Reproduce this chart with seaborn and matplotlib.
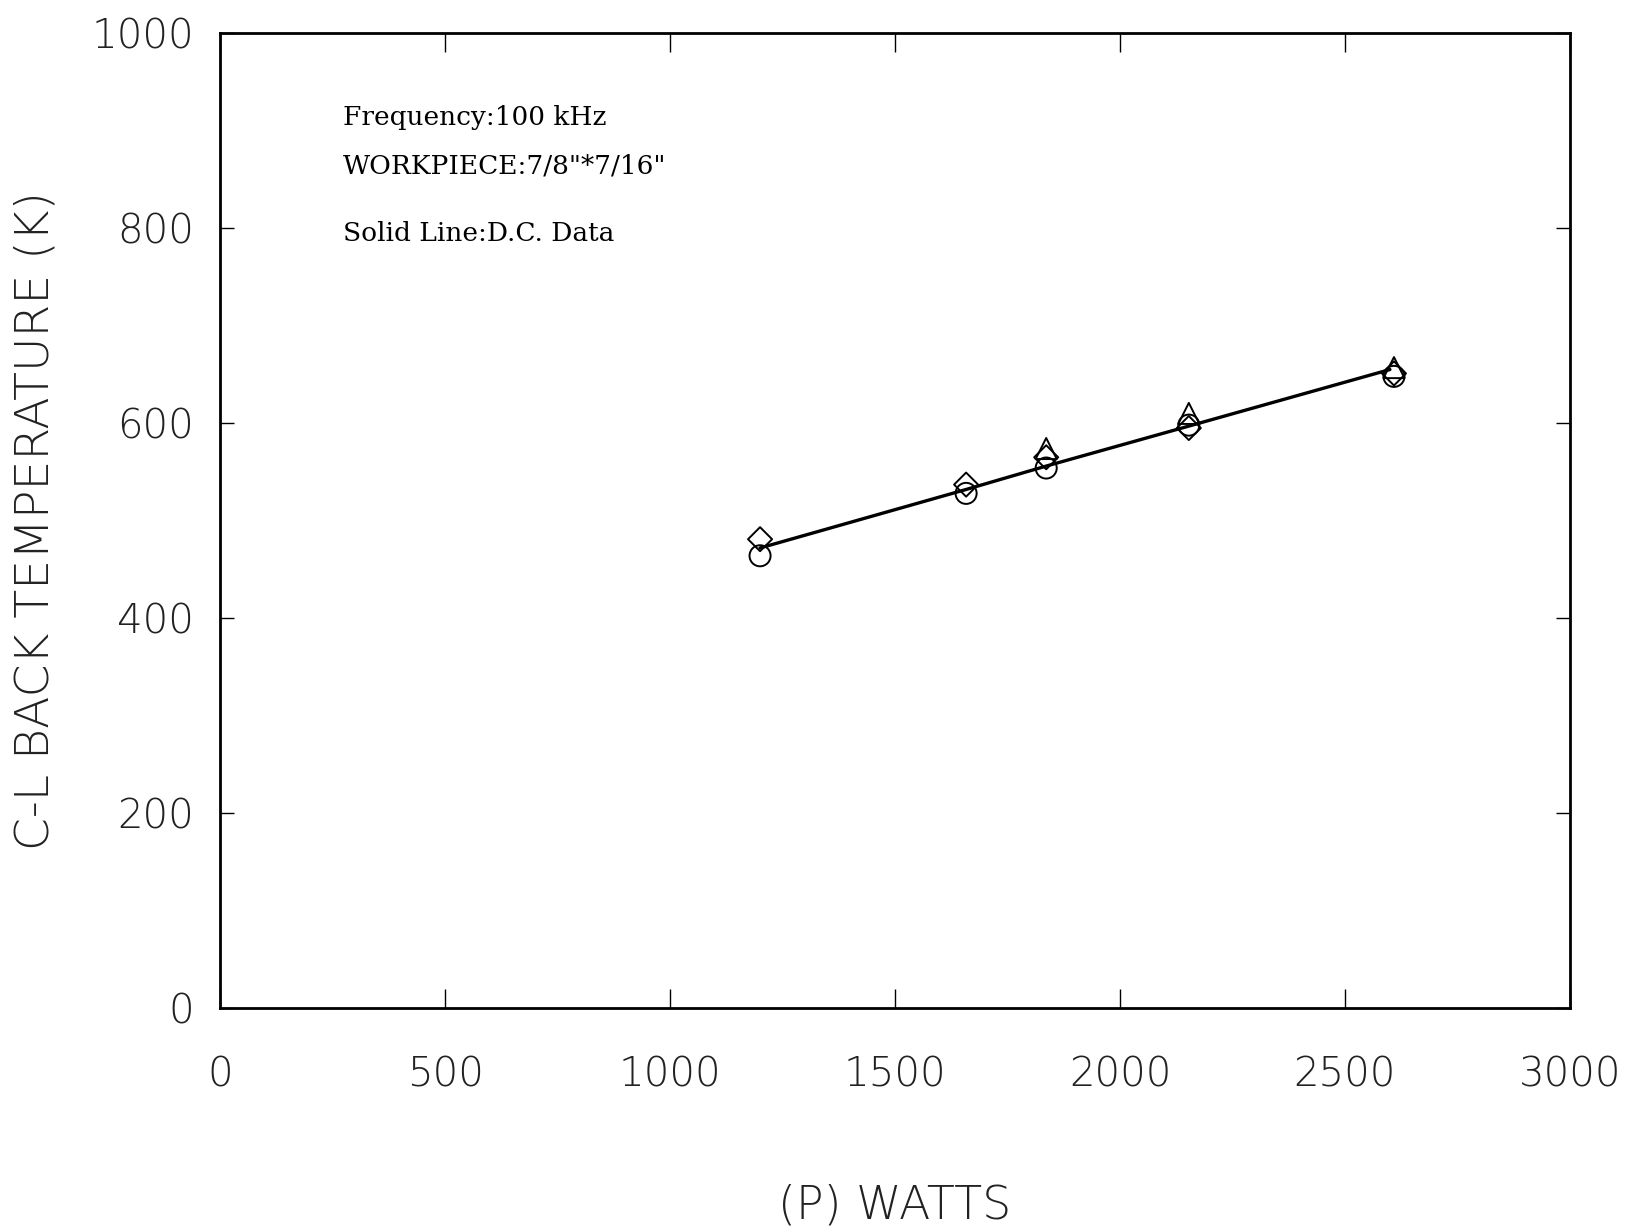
import matplotlib
matplotlib.use("Agg")
import matplotlib.pyplot as plt
import seaborn as sns
import pandas as pd

# ---- data ----
power_dc = [1200, 1658, 1836, 2153, 2600]
temp_dc = [472, 532, 556, 597, 655]

power_diamond = [1200, 1658, 1836, 2153, 2609]
temp_diamond = [481, 537, 565, 595, 651]

power_circle = [1200, 1658, 1836, 2153, 2609]
temp_circle = [464, 528, 554, 598, 648]

power_triangle = [1836, 2153, 2609]
temp_triangle = [574, 610, 657]

x_ticks = [0, 500, 1000, 1500, 2000, 2500, 3000]
y_ticks = [0, 200, 400, 600, 800, 1000]

notes = ["Frequency:100 kHz", "WORKPIECE:7/8\"*7/16\"", "Solid Line:D.C. Data"]

sns.set_theme(style="white")
plt.rcParams['font.family'] = ['DejaVu Sans']

fig = plt.figure(figsize=(16.43, 12.28), dpi=100)
ax = fig.add_axes([0.134, 0.179, 0.8215, 0.794])

dc = pd.DataFrame({"P": power_dc, "T": temp_dc})
sns.lineplot(data=dc, x="P", y="T", ax=ax, color="black", linewidth=2.4,
             sort=True, legend=False)

for px, ty, mk, ms in [(power_circle, temp_circle, "o", 230),
                       (power_diamond, temp_diamond, "D", 150),
                       (power_triangle, temp_triangle, "^", 230)]:
    df = pd.DataFrame({"P": px, "T": ty})
    sns.scatterplot(data=df, x="P", y="T", ax=ax, marker=mk, s=ms,
                    facecolors="none", edgecolors="black", linewidths=1.4,
                    legend=False, zorder=3)

ax.set_xlim(0, 3000)
ax.set_ylim(0, 1000)
ax.set_xticks(x_ticks)
ax.set_yticks(y_ticks)
tick_font = dict(family="DejaVu Sans", size=29, weight="light")
ax.set_xticklabels([str(v) for v in x_ticks], fontdict=tick_font, color="#222222")
ax.set_yticklabels([str(v) for v in y_ticks], fontdict=tick_font, color="#222222")
ax.tick_params(axis="x", direction="in", length=14, width=1.0, pad=34,
               top=True, bottom=True, color="black")
ax.tick_params(axis="y", direction="in", length=10, width=1.0, pad=19,
               left=True, right=True, color="black")

for s in ax.spines.values():
    s.set_visible(True)
    s.set_color("black")
    s.set_linewidth(2.0)

ax.set_xlabel("(P) WATTS", fontsize=33, family="DejaVu Sans", weight="light",
              color="#222222", labelpad=64)
ax.set_ylabel("C-L BACK TEMPERATURE (K)", fontsize=34, family="DejaVu Sans",
              weight="light", color="#222222", labelpad=24)

for txt, ty in zip(notes, [914, 864, 795]):
    ax.text(273, ty, txt, fontsize=19, family="DejaVu Serif", color="black",
            va="center", ha="left")

fig.savefig("out.png", dpi=100, facecolor="white")
